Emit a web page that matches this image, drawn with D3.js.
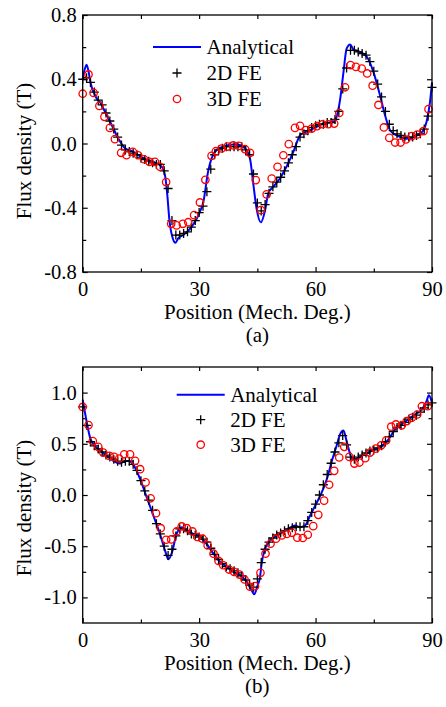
<!DOCTYPE html>
<html>
<head>
<meta charset="utf-8">
<script src="https://cdn.jsdelivr.net/npm/d3@7"></script>
<style>
body{margin:0;background:#fff;}
</style>
</head>
<body>
<script>
//=======================================================================
// data (position in mech. deg, flux density in T)
var xTicks  = [0,30,60,90];
var xMinor  = [15,45,75];

var aTicksY = [-0.8,-0.4,0.0,0.4,0.8];
var aMinorY = [-0.6,-0.2,0.2,0.6];
var bTicksY = [-1.0,-0.5,0.0,0.5,1.0];
var bMinorY = [-0.75,-0.25,0.25,0.75];

var legendNames = ["Analytical","2D FE","3D FE"];

// (a) analytical
var aAnalytical = [[0,0.40],[0.5,0.46],[1.0,0.49],[1.5,0.45],[2,0.38],[3,0.31],[3.6,0.28],[4.5,0.255],[5.7,0.20],[7.5,0.114],
	[9.2,0.03],[10.9,-0.03],[13,-0.05],[15.6,-0.093],[18.2,-0.114],[20.4,-0.145],[21.2,-0.197],[21.8,-0.32],[22.3,-0.467],
	[23.2,-0.59],[23.9,-0.618],[24.6,-0.59],[25.9,-0.57],[27.7,-0.53],[29.4,-0.467],[30.2,-0.425],[31.1,-0.363],[32.3,-0.176],
	[33.2,-0.093],[34.5,-0.04],[36.2,-0.02],[38.8,-0.006],[40.5,-0.01],[41.8,-0.03],[43.1,-0.093],[43.9,-0.24],[44.8,-0.405],
	[45.9,-0.49],[47.0,-0.415],[47.8,-0.31],[49.1,-0.27],[50.8,-0.218],[52.5,-0.145],[54.3,-0.05],[56.0,0.05],[57.3,0.07],
	[59.4,0.093],[62,0.124],[64.6,0.135],[65.4,0.166],[66.3,0.27],[67.2,0.446],[68.0,0.59],[68.9,0.616],[69.7,0.587],
	[71.4,0.57],[73.2,0.54],[74.9,0.446],[76.6,0.30],[77.9,0.176],[79.2,0.083],[80.9,0.05],[83.5,0.03],[86.1,0.05],
	[87.8,0.083],[88.6,0.135],[89.5,0.26],[90,0.38]];

// (a) 2D FE, one value per degree 0..90
var aFE2 = [0.40,0.41,0.38,0.32,0.27,0.24,0.19,0.14,0.09,0.04,
	-0.01,-0.04,-0.05,-0.06,-0.07,-0.09,-0.10,-0.11,-0.12,-0.13,
	-0.13,-0.17,-0.28,-0.48,-0.57,-0.57,-0.56,-0.55,-0.52,-0.48,
	-0.43,-0.39,-0.30,-0.16,-0.07,-0.04,-0.03,-0.02,-0.02,-0.02,
	-0.02,-0.02,-0.04,-0.07,-0.19,-0.37,-0.42,-0.38,-0.31,-0.27,
	-0.24,-0.21,-0.17,-0.12,-0.07,-0.02,0.04,0.06,0.08,0.10,
	0.11,0.12,0.12,0.13,0.13,0.15,0.20,0.34,0.47,0.58,
	0.58,0.57,0.56,0.55,0.51,0.45,0.37,0.29,0.20,0.12,
	0.08,0.06,0.05,0.04,0.04,0.04,0.05,0.06,0.09,0.17,0.35];

// (a) 3D FE
var aFE3 = [[0,0.31],[1.5,0.43],[2.8,0.315],[4.3,0.234],[5.6,0.166],[7.0,0.097],[8.3,0.027],[9.9,-0.058],[11.3,-0.073],
	[12.9,-0.052],[14.3,-0.073],[15.8,-0.098],[17.2,-0.114],[18.6,-0.114],[19.9,-0.145],[21.5,-0.24],[22.8,-0.50],
	[24.2,-0.51],[25.8,-0.50],[27.2,-0.49],[28.7,-0.446],[30.2,-0.367],[31.6,-0.226],[33.2,-0.077],[34.3,-0.048],
	[35.8,-0.031],[37.3,-0.019],[38.8,-0.012],[40.2,-0.015],[41.8,-0.035],[43.1,-0.058],[44.6,-0.228],[45.9,-0.415],
	[47.4,-0.317],[48.7,-0.218],[50.2,-0.145],[51.7,-0.073],[53.1,-0.004],[54.7,0.097],[56.0,0.11],[57.5,0.083],
	[59.0,0.093],[60.4,0.108],[61.8,0.12],[63.3,0.12],[64.8,0.124],[66.1,0.19],[67.6,0.35],[69.0,0.488],[70.4,0.477],
	[71.9,0.467],[73.3,0.436],[74.7,0.36],[76.2,0.24],[77.6,0.10],[79.0,0.035],[80.5,0.006],[81.9,0.006],[83.3,0.025],
	[84.8,0.046],[86.2,0.056],[87.8,0.077],[89.1,0.214]];

// (b) analytical
var bAnalytical = [[0,0.93],[1.0,0.72],[1.9,0.56],[2.7,0.495],[4.5,0.437],[6.2,0.382],[7.9,0.333],[9.6,0.307],[10.9,0.333],
	[11.8,0.333],[13.0,0.30],[14.8,0.155],[16.5,-0.023],[18.2,-0.2],[19.9,-0.38],[21.2,-0.54],[22.1,-0.628],[22.9,-0.573],
	[24.2,-0.38],[25.5,-0.314],[26.8,-0.346],[28.5,-0.38],[30.2,-0.41],[31.9,-0.476],[33.7,-0.573],[35.4,-0.654],
	[37.1,-0.70],[38.8,-0.75],[40.5,-0.78],[42.3,-0.85],[43.5,-0.93],[44.2,-0.97],[45.0,-0.89],[45.7,-0.80],[46.1,-0.67],
	[47.0,-0.524],[48.3,-0.443],[49.6,-0.405],[51.3,-0.362],[53.0,-0.33],[54.7,-0.298],[56.0,-0.314],[57.3,-0.298],
	[58.6,-0.2],[59.9,-0.104],[61.6,0.026],[62.9,0.155],[64.2,0.333],[65.4,0.479],[66.3,0.592],[67.2,0.63],[68.0,0.527],
	[69.3,0.366],[70.2,0.35],[71.9,0.382],[73.6,0.414],[75.3,0.447],[77.0,0.479],[78.8,0.544],[80.5,0.64],[82.2,0.69],
	[83.9,0.738],[85.6,0.786],[87.4,0.835],[88.6,0.916],[89.2,0.974],[90,0.90]];

// (b) 2D FE, one value per degree 0..90
var bFE2 = [0.86,0.68,0.52,0.48,0.45,0.42,0.39,0.37,0.35,0.33,
	0.32,0.33,0.33,0.30,0.24,0.14,0.04,-0.05,-0.15,-0.28,
	-0.38,-0.50,-0.59,-0.53,-0.40,-0.33,-0.33,-0.35,-0.38,-0.39,
	-0.41,-0.43,-0.46,-0.52,-0.58,-0.63,-0.67,-0.70,-0.72,-0.74,
	-0.76,-0.79,-0.83,-0.88,-0.90,-0.82,-0.66,-0.53,-0.46,-0.42,
	-0.39,-0.37,-0.35,-0.33,-0.32,-0.31,-0.31,-0.31,-0.25,-0.17,
	-0.09,0.00,0.10,0.20,0.31,0.42,0.51,0.58,0.49,0.37,
	0.35,0.37,0.39,0.41,0.43,0.44,0.46,0.48,0.52,0.57,
	0.62,0.66,0.68,0.71,0.74,0.76,0.78,0.81,0.85,0.88,0.90];

// (b) 3D FE
var bFE3 = [[0,0.86],[1.5,0.683],[2.6,0.527],[4.0,0.47],[5.3,0.414],[6.9,0.382],[8.1,0.372],[9.4,0.356],[10.7,0.398],
	[12.2,0.398],[13.5,0.333],[14.8,0.252],[16.2,0.123],[17.5,-0.032],[18.9,-0.178],[20.1,-0.324],[21.5,-0.437],
	[22.8,-0.434],[24.2,-0.356],[25.5,-0.307],[26.8,-0.324],[28.3,-0.356],[29.5,-0.41],[30.9,-0.427],[32.2,-0.492],
	[33.7,-0.573],[35.0,-0.644],[36.2,-0.686],[37.7,-0.728],[39.0,-0.75],[40.4,-0.777],[41.7,-0.825],[43.1,-0.896],
	[44.4,-0.89],[45.8,-0.76],[47.1,-0.573],[48.4,-0.476],[49.8,-0.427],[51.3,-0.395],[52.6,-0.38],[53.9,-0.369],
	[55.3,-0.417],[56.7,-0.42],[58.0,-0.388],[59.4,-0.304],[60.7,-0.194],[62.2,-0.055],[63.5,0.10],[64.8,0.236],
	[66.1,0.366],[67.4,0.47],[68.7,0.372],[70.0,0.307],[71.3,0.317],[72.8,0.36],[74.0,0.414],[75.5,0.453],
	[76.9,0.485],[78.2,0.534],[79.5,0.667],[80.7,0.689],[82.2,0.68],[83.5,0.722],[84.8,0.754],[86.2,0.786],
	[87.4,0.867],[88.9,0.867]];
//-----------------------------------------------------------------------
var v_Font = "'Liberation Serif','Times New Roman',serif";
var v_Left = 82.7, v_Right = 432;

var v_Canvas = d3.select("body")
					.append("svg")
					.attr("width",446)
					.attr("height",707)
					.style("background","#fff");

f_Panel({top:15,  bottom:272, yDom:[-0.8,0.8],   yMaj:aTicksY, yMin:aMinorY,
		 ana:aAnalytical, fe2:aFE2, fe3:aFE3, tag:"(a)", titleY:151,
		 legX:153, legY:54, legStep:26});
f_Panel({top:367, bottom:623, yDom:[-1.25,1.25], yMaj:bTicksY, yMin:bMinorY,
		 ana:bAnalytical, fe2:bFE2, fe3:bFE3, tag:"(b)", titleY:508,
		 legX:176.7, legY:401.7, legStep:25});
//-----------------------------------------------------------------------
function f_Axis(arg_g, arg_axis)
{
	arg_g.call(arg_axis);
	arg_g.select(".domain").remove();
	arg_g.attr("font-family",v_Font).attr("font-size",20.5);
	arg_g.selectAll("line").attr("stroke","#000").attr("stroke-width",1.2);
	arg_g.selectAll("text").attr("fill","#000");
}
//-----------------------------------------------------------------------
function f_Panel(p)
{
	var x = d3.scaleLinear().domain([0,90]).range([v_Left,v_Right]);
	var y = d3.scaleLinear().domain(p.yDom).range([p.bottom,p.top]);
	var fmtY = function(d){return d.toFixed(1);};

	// axes, ticks inward on all four sides
	f_Axis(v_Canvas.append("g").attr("transform","translate(0,"+p.bottom+")"),
		d3.axisBottom(x).tickValues(xTicks).tickSize(-5).tickPadding(9).tickFormat(d3.format("d")));
	f_Axis(v_Canvas.append("g").attr("transform","translate(0,"+p.bottom+")"),
		d3.axisBottom(x).tickValues(xMinor).tickSize(-3.5).tickFormat(""));
	f_Axis(v_Canvas.append("g").attr("transform","translate(0,"+p.top+")"),
		d3.axisTop(x).tickValues(xTicks.concat(xMinor)).tickSize(-4).tickFormat(""));
	f_Axis(v_Canvas.append("g").attr("transform","translate("+v_Left+",0)"),
		d3.axisLeft(y).tickValues(p.yMaj).tickSize(-5).tickPadding(6).tickFormat(fmtY));
	f_Axis(v_Canvas.append("g").attr("transform","translate("+v_Left+",0)"),
		d3.axisLeft(y).tickValues(p.yMin).tickSize(-3.5).tickFormat(""));
	f_Axis(v_Canvas.append("g").attr("transform","translate("+v_Right+",0)"),
		d3.axisRight(y).tickValues(p.yMaj).tickSize(-5).tickFormat(""));
	f_Axis(v_Canvas.append("g").attr("transform","translate("+v_Right+",0)"),
		d3.axisRight(y).tickValues(p.yMin).tickSize(-3.5).tickFormat(""));

	// analytical curve
	var line = d3.line()
				.x(function(d){return x(d[0]);})
				.y(function(d){return y(d[1]);})
				.curve(d3.curveMonotoneX);
	v_Canvas.append("path")
			.datum(p.ana)
			.attr("d",line)
			.attr("fill","none")
			.attr("stroke","#0000ff")
			.attr("stroke-width",2);

	// 2D FE pluses
	v_Canvas.append("g").selectAll("path")
			.data(p.fe2)
			.enter()
				.append("path")
				.attr("transform",function(d,i){return "translate("+x(i)+","+y(d)+")";})
				.attr("d","M-4.5,0H4.5M0,-4.5V4.5")
				.attr("stroke","#000")
				.attr("stroke-width",1.3);

	// 3D FE circles
	v_Canvas.append("g").selectAll("circle")
			.data(p.fe3)
			.enter()
				.append("circle")
				.attr("cx",function(d){return x(d[0]);})
				.attr("cy",function(d){return y(d[1]);})
				.attr("r",3.7)
				.attr("fill","none")
				.attr("stroke","#ff0000")
				.attr("stroke-width",1.3);

	// frame
	v_Canvas.append("rect")
			.attr("x",v_Left).attr("y",p.top)
			.attr("width",v_Right-v_Left).attr("height",p.bottom-p.top)
			.attr("fill","none").attr("stroke","#000").attr("stroke-width",1.3);

	// titles
	var cx = (v_Left+v_Right)/2;
	v_Canvas.append("text")
			.attr("x",cx).attr("y",p.bottom+47)
			.attr("text-anchor","middle")
			.attr("font-family",v_Font).attr("font-size",21)
			.text("Position (Mech. Deg.)");
	v_Canvas.append("text")
			.attr("x",cx).attr("y",p.bottom+70)
			.attr("text-anchor","middle")
			.attr("font-family",v_Font).attr("font-size",21)
			.text(p.tag);
	v_Canvas.append("text")
			.attr("transform","translate(31,"+p.titleY+") rotate(-90)")
			.attr("text-anchor","middle")
			.attr("font-family",v_Font).attr("font-size",21)
			.text("Flux density (T)");

	// legend
	var lg = v_Canvas.append("g");
	var my = p.legY-7;
	lg.append("line")
		.attr("x1",p.legX).attr("x2",p.legX+48)
		.attr("y1",my).attr("y2",my)
		.attr("stroke","#0000ff").attr("stroke-width",2);
	lg.append("path")
		.attr("transform","translate("+(p.legX+24)+","+(my+p.legStep)+")")
		.attr("d","M-4.5,0H4.5M0,-4.5V4.5")
		.attr("stroke","#000").attr("stroke-width",1.3);
	lg.append("circle")
		.attr("cx",p.legX+24).attr("cy",my+2*p.legStep)
		.attr("r",3.7)
		.attr("fill","none").attr("stroke","#ff0000").attr("stroke-width",1.3);
	lg.selectAll("text")
		.data(legendNames)
		.enter()
			.append("text")
			.attr("x",p.legX+53.5)
			.attr("y",function(d,i){return p.legY+i*p.legStep;})
			.attr("font-family",v_Font).attr("font-size",21)
			.text(function(d){return d;});
}
//=======================================================================
</script>
</body>
</html>
